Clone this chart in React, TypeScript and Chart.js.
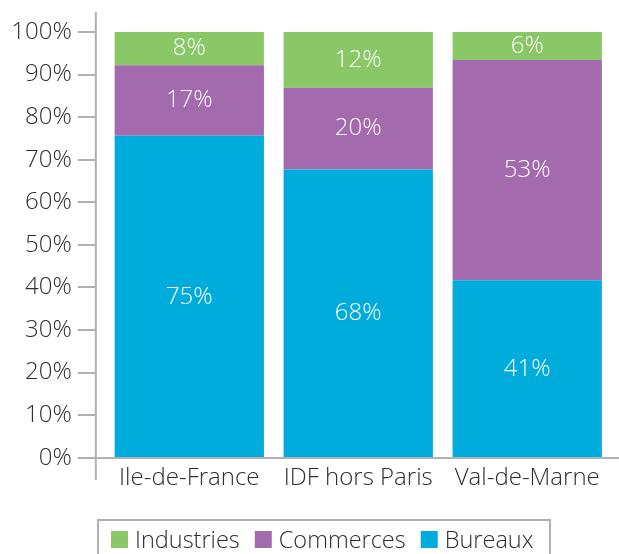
import React, { useEffect, useRef } from "react";
import { Chart, registerables } from "chart.js";

Chart.register(...registerables);

const categories = ["Ile-de-France", "IDF hors Paris", "Val-de-Marne"];
const bureaux = [75.6, 67.7, 41.7];
const commerces = [16.6, 19.2, 51.7];
const industries = [7.8, 13.1, 6.6];
const bureauxLabels = ["75%", "68%", "41%"];
const commercesLabels = ["17%", "20%", "53%"];
const industriesLabels = ["8%", "12%", "6%"];
const yTicks = [0, 10, 20, 30, 40, 50, 60, 70, 80, 90, 100];

const FONT = "'Open Sans', 'Liberation Sans', sans-serif";
const AXIS = "#b0b0b5";
const TEXT = "#2e2e2e";

const axisPlugin = {
  id: "axisLines",
  afterDraw(chart: any) {
    const { ctx } = chart;
    const y = chart.scales.y;
    const axisX = chart.chartArea.left - 9;
    ctx.save();
    ctx.strokeStyle = AXIS;
    ctx.lineWidth = 2;
    ctx.beginPath();
    ctx.moveTo(axisX, 12);
    ctx.lineTo(axisX, 480);
    yTicks.forEach((t) => {
      const py = Math.round(y.getPixelForValue(t));
      ctx.moveTo(axisX - 18, py);
      ctx.lineTo(axisX, py);
    });
    const p0 = Math.round(y.getPixelForValue(0));
    ctx.moveTo(axisX, p0);
    ctx.lineTo(chart.width, p0);
    ctx.stroke();
    ctx.restore();
  },
};

const labelPlugin = {
  id: "segLabels",
  afterDatasetsDraw(chart: any) {
    const { ctx } = chart;
    ctx.save();
    ctx.fillStyle = "#ffffff";
    ctx.font = `300 24px ${FONT}`;
    ctx.textAlign = "center";
    ctx.textBaseline = "middle";
    chart.data.datasets.forEach((ds: any, i: number) => {
      const meta = chart.getDatasetMeta(i);
      meta.data.forEach((el: any, j: number) => {
        const cy = (el.y + el.base) / 2;
        ctx.fillText(ds.segLabels[j], el.x, cy);
      });
    });
    ctx.restore();
  },
};

const legendPlugin = {
  id: "boxLegend",
  afterDraw(chart: any) {
    const { ctx } = chart;
    ctx.save();
    ctx.strokeStyle = AXIS;
    ctx.lineWidth = 2;
    ctx.strokeRect(98, 520, 452, 40);
    ctx.font = `300 23.5px ${FONT}`;
    ctx.textBaseline = "alphabetic";
    ctx.textAlign = "left";
    let x = 111;
    const items = [...chart.data.datasets].reverse();
    items.forEach((ds: any) => {
      ctx.fillStyle = ds.backgroundColor;
      ctx.fillRect(x, 531, 17, 17);
      x += 17 + 7;
      ctx.fillStyle = TEXT;
      ctx.fillText(ds.label, x, 548);
      x += ctx.measureText(ds.label).width + 15;
    });
    ctx.restore();
  },
};

export default function App() {
  const ref = useRef<HTMLCanvasElement | null>(null);
  useEffect(() => {
    if (!ref.current) return;
    const chart = new Chart(ref.current, {
      type: "bar",
      data: {
        labels: categories,
        datasets: [
          { label: "Bureaux", data: bureaux, backgroundColor: "#00acdb", segLabels: bureauxLabels } as any,
          { label: "Commerces", data: commerces, backgroundColor: "#a36bad", segLabels: commercesLabels } as any,
          { label: "Industries", data: industries, backgroundColor: "#8ac766", segLabels: industriesLabels } as any,
        ],
      },
      options: {
        animation: false,
        responsive: false,
        maintainAspectRatio: false,
        layout: { padding: { top: 32, right: 7.3, left: 0, bottom: 56.3 } },
        datasets: { bar: { categoryPercentage: 1, barPercentage: 0.8836, borderWidth: 0 } },
        plugins: { legend: { display: false }, tooltip: { enabled: false } },
        scales: {
          x: {
            stacked: true,
            grid: { display: false, drawTicks: true, tickLength: 6 },
            border: { display: false },
            ticks: { font: { family: FONT, size: 24, weight: 300 as any }, color: TEXT, padding: 0 },
            afterFit: (s: any) => { s.height = 40; },
          },
          y: {
            stacked: true,
            min: 0,
            max: 100,
            grid: { display: false, drawTicks: true, tickLength: 33 },
            border: { display: false },
            afterBuildTicks: (s: any) => { s.ticks = yTicks.map((v) => ({ value: v })); },
            ticks: {
              font: { family: FONT, size: 24, weight: 300 as any },
              color: TEXT,
              padding: 0,
              callback: (v: any) => v + "%",
            },
            afterFit: (s: any) => { s.width = 104.8; },
          },
        },
      },
      plugins: [axisPlugin, labelPlugin, legendPlugin],
    });
    return () => chart.destroy();
  }, []);
  return (
    <div style={{ position: "fixed", left: 0, top: 0, width: 619, height: 554, background: "#fff" }}>
      <canvas ref={ref} width={619} height={554} style={{ width: 619, height: 554 }} />
    </div>
  );
}
